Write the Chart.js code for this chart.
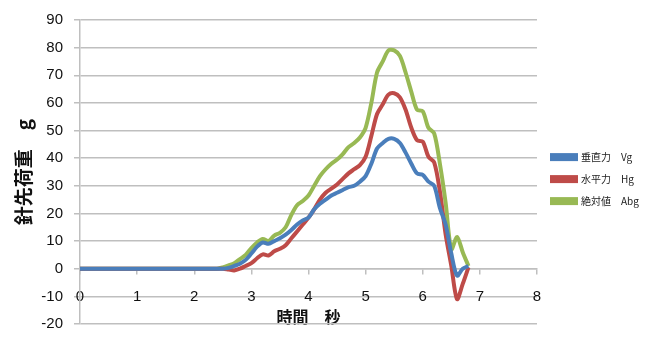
<!DOCTYPE html>
<html>
<head>
<meta charset="utf-8">
<script src="https://cdn.jsdelivr.net/npm/chart.js@4.4.1/dist/chart.umd.min.js"></script>
<style>
  html, body { margin: 0; padding: 0; background: #fff; }
  #wrap { width: 648px; height: 357px; position: relative; }
</style>
</head>
<body>
<div id="wrap"><canvas id="chart"></canvas></div>
<script>
// time (s)
const times = [
  0.0, 0.1, 0.2, 0.3, 0.4, 0.5, 0.6, 0.7, 0.8, 0.9,
  1.0, 1.1, 1.2, 1.3, 1.4, 1.5, 1.6, 1.7, 1.8, 1.9,
  2.0, 2.1, 2.2, 2.3, 2.4, 2.5, 2.6, 2.7, 2.8, 2.9,
  3.0, 3.1, 3.2, 3.3, 3.4, 3.5, 3.6, 3.7, 3.8, 3.9,
  4.0, 4.1, 4.2, 4.3, 4.4, 4.5, 4.6, 4.7, 4.8, 4.9,
  5.0, 5.1, 5.2, 5.3, 5.4, 5.5, 5.6, 5.7, 5.8, 5.9,
  6.0, 6.1, 6.2, 6.3, 6.4, 6.5, 6.6, 6.7, 6.8
];

// 垂直力 Vg
const vertical = [
  0, 0, 0, 0, 0, 0, 0, 0, 0, 0,
  0, 0, 0, 0, 0, 0, 0, 0, 0, 0,
  0, 0, 0, 0, 0, 0, 0.3, 1, 1.8, 3.2,
  5.5, 8, 9.5, 9, 10, 11, 12.3, 14, 16, 17.5,
  18.5, 21.5, 23.5, 25, 26.5, 27.5, 28.5, 29.5, 30, 31.5,
  33.5, 38, 43.5, 45.5, 47, 47, 45.5, 42, 38, 34.5,
  34, 31.5, 30, 22, 16, 5.5, -2.5, 0, 1
];

// 水平力 Hg
const horizontal = [
  0, 0, 0, 0, 0, 0, 0, 0, 0, 0,
  0, 0, 0, 0, 0, 0, 0, 0, 0, 0,
  0, 0, 0, 0, 0, 0, -0.3, -0.6, 0, 1,
  2, 3.8, 5.2, 4.8, 6.3, 7.2, 8.5, 11, 13.5, 16,
  18.5, 21.5, 25, 27.5, 29, 30.5, 32.5, 34.5, 36, 37.5,
  40.5, 48, 56, 59.5, 63, 63.5, 62, 57.5, 51, 46.5,
  46, 40.5, 38.5, 28, 12.5, 1, -11, -5.5, 0.5
];

// 絶対値 Abg
const absolute = [
  0, 0, 0, 0, 0, 0, 0, 0, 0, 0,
  0, 0, 0, 0, 0, 0, 0, 0, 0, 0,
  0, 0, 0, 0, 0, 0.5, 1.2, 2, 3.5, 5,
  7.5, 9.5, 10.8, 10, 12, 13, 15, 19.5, 23, 24.5,
  26.5, 30, 33.5, 36, 38, 39.5, 41.5, 44, 45.5, 47.5,
  51, 60, 71, 75, 79, 79, 77, 71, 64, 57.5,
  57, 51, 49, 38, 24, 7, 11.5, 6, 1
];

const seriesNames = ['垂直力　Vg', '水平力　Hg', '絶対値　Abg'];
const seriesColors = ['#4a7ebb', '#be4b48', '#98b954'];

const toPoints = (vals) => vals.map((v, i) => ({ x: times[i], y: v }));

const gridColor = '#bfbfbf';
const tickFont = { family: 'Liberation Sans', size: 15 };

new Chart(document.getElementById('chart'), {
  type: 'line',
  data: {
    datasets: [vertical, horizontal, absolute].map((vals, i) => ({
      label: seriesNames[i],
      data: toPoints(vals),
      borderColor: seriesColors[i],
      backgroundColor: seriesColors[i],
      borderWidth: 4,
      pointRadius: 0,
      tension: 0.3,
      fill: false
    }))
  },
  options: {
    responsive: true,
    maintainAspectRatio: false,
    animation: false,
    layout: { padding: { top: 6, right: 0, bottom: 33, left: 0 } },
    plugins: {
      tooltip: { enabled: false },
      legend: {
        position: 'right',
        // blank title only nudges the entries down
        title: { display: true, text: ' ', font: { size: 1 }, padding: 13.5 },
        labels: {
          boxWidth: 24,
          boxHeight: 4,
          padding: 12,
          color: '#222',
          font: { family: 'Noto Sans CJK JP', size: 10 }
        }
      }
    },
    scales: {
      x: {
        type: 'linear',
        position: { y: 0 },
        min: 0,
        max: 8,
        ticks: { stepSize: 1, color: '#111', font: tickFont, padding: 14, maxRotation: 0 },
        grid: { drawOnChartArea: false, drawTicks: true, tickLength: 5, color: gridColor, lineWidth: 1.5 },
        border: { color: gridColor, width: 1.5 },
        title: {
          display: true,
          text: '時間　秒',
          color: '#111',
          font: { family: 'Noto Sans CJK JP', size: 16, weight: 'bold' },
          padding: { top: -12, bottom: 0 }
        }
      },
      y: {
        min: -20,
        max: 90,
        ticks: { stepSize: 10, color: '#111', font: tickFont, padding: 11 },
        grid: { color: gridColor, lineWidth: 1.5, tickLength: 6 },
        border: { color: gridColor, width: 1.5 },
        title: {
          display: true,
          text: '針先荷重　g',
          color: '#111',
          font: { family: 'Noto Sans CJK JP', size: 19, weight: 'bold' },
          padding: { top: 12, bottom: 4 }
        },
        afterFit: (scale) => { scale.width = 80; }
      },
      // empty spacer between plot area and legend
      gap: {
        type: 'linear',
        axis: 'y',
        position: 'right',
        display: true,
        ticks: { display: false },
        grid: { display: false },
        border: { display: false },
        afterFit: (scale) => { scale.width = 3; }
      }
    }
  }
});
</script>
</body>
</html>
